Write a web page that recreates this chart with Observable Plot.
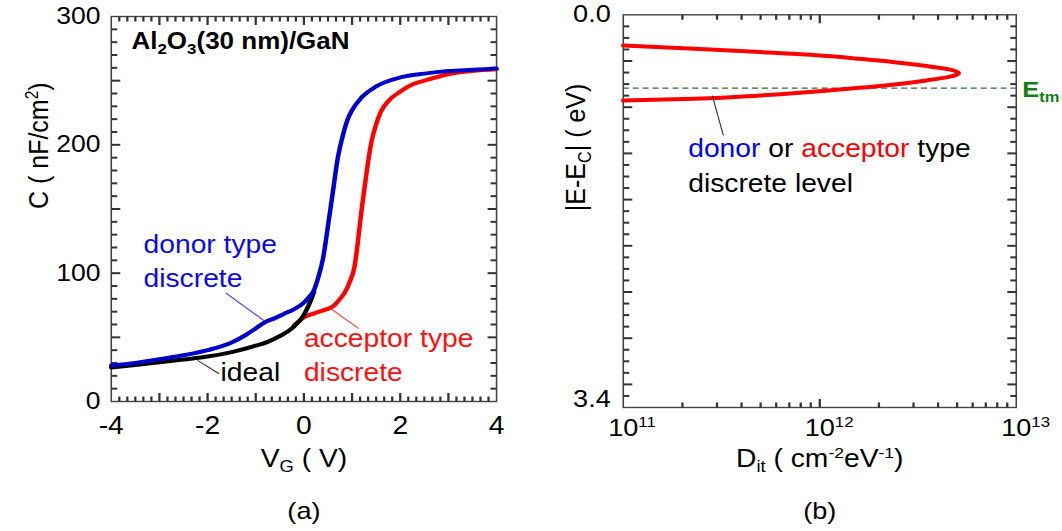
<!DOCTYPE html>
<html>
<head>
<meta charset="utf-8">
<script src="https://cdn.jsdelivr.net/npm/d3@7"></script>
<script src="https://cdn.jsdelivr.net/npm/@observablehq/plot@0.6"></script>
<style>
  body { margin: 0; background: #fff; }
  #wrap { position: relative; width: 1062px; height: 531px; overflow: hidden; background: #fff; }
  #wrap svg { position: absolute; top: 0; }
</style>
</head>
<body>
<div id="wrap"></div>
<script>
// ---------------- Panel (a): C-V curves ----------------
const vIdeal = [-4, -3.5, -3, -2.5, -2, -1.5, -1, -0.75, -0.5, -0.25, 0, 0.1, 0.21];
const cIdeal = [26.5, 28.5, 30.5, 32.7, 35, 38.5, 43.5, 46.5, 51, 57, 67.5, 75, 85.5];

const vDonor = [-4, -3.5, -3, -2.5, -2, -1.5, -1.2, -1, -0.8, -0.6, -0.4, -0.2, 0, 0.1, 0.2, 0.3, 0.4, 0.5, 0.6, 0.7, 0.8, 0.9, 1.0, 1.2, 1.5, 2.0, 2.5, 3.0, 3.5, 4.0];
const cDonor = [28, 30, 33, 36, 40, 46, 52, 57, 62, 65, 68.5, 72, 77, 81, 86, 97, 112, 137, 163, 189, 206, 219, 227, 237, 245.5, 252.5, 255.5, 257.5, 258.5, 259.5];

const vAcceptor = [-0.2, 0, 0.2, 0.4, 0.6, 0.75, 0.85, 0.95, 1.05, 1.1, 1.15, 1.2, 1.25, 1.3, 1.4, 1.5, 1.6, 1.75, 2.0, 2.25, 2.5, 3.0, 3.5, 4.0];
const cAcceptor = [59.5, 65.5, 68.5, 71, 74, 80, 85, 93, 105, 118, 134, 150, 164, 178, 202, 216, 226, 234, 241.5, 247, 250, 255, 257.5, 258.8];

const xTickValuesA = [-4, -2, 0, 2, 4];
const xTickLabelsA = ["-4", "-2", "0", "2", "4"];
const yTickValuesA = [0, 100, 200, 300];
const yTickLabelsA = ["0", "100", "200", "300"];

// ---------------- Panel (b): Dit distribution ----------------
const eLevel   = [0.266, 0.294, 0.323, 0.352, 0.381, 0.410, 0.444, 0.475, 0.505, 0.535, 0.568, 0.603, 0.632, 0.661, 0.698, 0.727, 0.741];
const ditLevel = [1.0e11, 2.3e11, 5.0e11, 1.0e12, 1.6e12, 2.4e12, 3.5e12, 4.6e12, 5.1e12, 4.6e12, 3.5e12, 2.4e12, 1.6e12, 1.0e12, 5.0e11, 2.3e11, 1.0e11];
const eTrapMid = [0.635];

const xTickValuesB = [1e11, 1e12, 1e13];
const xTickLabelsB = ["10^{11}", "10^{12}", "10^{13}"];
const yTickValuesB = [0, 3.4];
const yTickLabelsB = ["0.0", "3.4"];

// ---------------- layout ----------------
const STRETCH = 1.13;     // horizontal stretch of the reference figure
const H = 531;
const FONT = "'Liberation Sans', Arial, Helvetica, sans-serif";
const FRAME_COLOR = "#444";
const TICK_COLOR = "#333";
const BLUE = "#0000cc", RED = "#ff0000";

// inward ticks on all four sides: each tick is a 2-point line series
function frameTicks({xMinor, xMajor, yMinor, yMajor, xDom, yDom, xLog, iw, ih, xMinorLen, xMajorLen, yMinorLen, yMajorLen}) {
  const [yB, yT] = yDom;
  const [xL, xR] = xDom;
  const yFrom = (base, other, L) => base + (other - base) * (L / ih);
  const xFrom = (base, other, L) => {
    const f = (L / STRETCH) / iw;
    return xLog ? base * Math.pow(other / base, f) : base + (other - base) * f;
  };
  const pts = [];
  let id = 0;
  const seg = (x1, y1, x2, y2) => { id++; pts.push({id, x: x1, y: y1}, {id, x: x2, y: y2}); };
  const vt = (vals, L) => vals.forEach(v => { seg(v, yB, v, yFrom(yB, yT, L)); seg(v, yT, v, yFrom(yT, yB, L)); });
  const ht = (vals, L) => vals.forEach(v => { seg(xL, v, xFrom(xL, xR, L), v); seg(xR, v, xFrom(xR, xL, L), v); });
  vt(xMinor, xMinorLen); vt(xMajor, xMajorLen); ht(yMinor, yMinorLen); ht(yMajor, yMajorLen);
  return [Plot.line(pts, {x: "x", y: "y", z: "id", stroke: TICK_COLOR, strokeWidth: 2, strokeLinecap: "butt"})];
}

// rich text: _{sub}, ^{sup}, [color|text]
function richify(svg) {
  for (const t of svg.querySelectorAll("text")) {
    const s = t.textContent;
    if (!/[_^]\{|\[[^\]|]+\|/.test(s)) continue;
    const fs = parseFloat(getComputedStyle(t).fontSize) || 24;
    while (t.firstChild) t.removeChild(t.firstChild);
    const re = /_\{([^}]*)\}|\^\{([^}]*)\}|\[([^|\]]+)\|([^\]]*)\]|([^_^\[]+|[_^\[])/g;
    let m, offset = 0;
    while ((m = re.exec(s))) {
      const ts = document.createElementNS("http://www.w3.org/2000/svg", "tspan");
      let text, target = 0;
      if (m[1] != null) { text = m[1]; target = 0.22 * fs; ts.setAttribute("font-size", (0.65 * fs).toFixed(2)); }
      else if (m[2] != null) { text = m[2]; target = -0.34 * fs; ts.setAttribute("font-size", (0.62 * fs).toFixed(2)); }
      else if (m[3] != null) { text = m[4]; ts.setAttribute("fill", m[3]); }
      else text = m[5];
      const dy = target - offset; offset = target;
      if (dy) ts.setAttribute("dy", dy.toFixed(2));
      ts.textContent = text;
      t.appendChild(ts);
    }
  }
}

function place(svg, left, widthAct) {
  svg.setAttribute("width", widthAct);
  svg.setAttribute("height", H);
  svg.setAttribute("preserveAspectRatio", "none");
  svg.style.width = widthAct + "px";
  svg.style.height = H + "px";
  svg.style.maxWidth = "none";
  svg.style.left = left + "px";
  document.getElementById("wrap").appendChild(svg);
  richify(svg);
}

// ---------- Panel (a) ----------
{
  const widthAct = 530;
  const f = {left: 110.7, right: 496, top: 16, bottom: 401};
  const W = widthAct / STRETCH;
  const ml = f.left / STRETCH, mr = (widthAct - f.right) / STRETCH, mt = f.top, mb = H - f.bottom;
  const iw = W - ml - mr, ih = H - mt - mb;
  const xAll = d3.range(-24, 25).map(i => i / 6);
  const xMajor = d3.range(-3, 4);
  const xMinor = xAll.filter(v => Math.abs(v - Math.round(v)) > 1e-6);
  const yAll = d3.range(10, 300, 10);
  const yMajor = yAll.filter(v => v % 50 === 0);
  const yMinor = yAll.filter(v => v % 50 !== 0);

  const svg = Plot.plot({
    width: W, height: H,
    marginLeft: ml, marginRight: mr, marginTop: mt, marginBottom: mb,
    x: {domain: [-4, 4], axis: null},
    y: {domain: [0, 300], axis: null},
    style: {fontFamily: FONT, fontSize: "25px", background: "white", color: "black", overflow: "visible"},
    marks: [
      Plot.frame({stroke: FRAME_COLOR, fill: "none", strokeWidth: 1.4}),
      ...frameTicks({xMinor, xMajor, yMinor, yMajor, xDom: [-4, 4], yDom: [0, 300], xLog: false, iw, ih, xMinorLen: 5, xMajorLen: 8.5, yMinorLen: 6, yMajorLen: 9}),
      Plot.line(vAcceptor, {x: vAcceptor, y: cAcceptor, stroke: RED, strokeWidth: 4, curve: "monotone-x"}),
      Plot.line(vIdeal, {x: vIdeal, y: cIdeal, stroke: "#000", strokeWidth: 4, curve: "monotone-x"}),
      Plot.line(vDonor, {x: vDonor, y: cDonor, stroke: BLUE, strokeWidth: 4, curve: "monotone-x"}),
      // leader lines
      Plot.link([{x1: -1.62, y1: 84.4, x2: -0.83, y2: 63.1}], {x1: "x1", y1: "y1", x2: "x2", y2: "y2", stroke: "#2a2aff", strokeWidth: 1}),
      Plot.link([{x1: 0.55, y1: 72.5, x2: 1.14, y2: 56.7}], {x1: "x1", y1: "y1", x2: "x2", y2: "y2", stroke: "#ff3030", strokeWidth: 1}),
      Plot.link([{x1: -2.21, y1: 32, x2: -1.76, y2: 21.6}], {x1: "x1", y1: "y1", x2: "x2", y2: "y2", stroke: "#333", strokeWidth: 1}),
      // annotations
      Plot.text([{x: -3.58, y: 274.9, t: "Al_{2}O_{3}(30 nm)/GaN"}], {x: "x", y: "y", text: "t", textAnchor: "start", lineAnchor: "bottom", fontSize: 23, fontWeight: "bold", fill: "#000"}),
      Plot.text([{x: -3.33, y: 116.1, t: "donor type"}, {x: -3.33, y: 89.2, t: "discrete"}], {x: "x", y: "y", text: "t", textAnchor: "start", lineAnchor: "bottom", fontSize: 25, fill: "#0a0ae6"}),
      Plot.text([{x: 0.0, y: 42.1, t: "acceptor type"}, {x: 0.0, y: 15.6, t: "discrete"}], {x: "x", y: "y", text: "t", textAnchor: "start", lineAnchor: "bottom", fontSize: 25, fill: "#ff1010"}),
      Plot.text([{x: -1.73, y: 15.6, t: "ideal"}], {x: "x", y: "y", text: "t", textAnchor: "start", lineAnchor: "bottom", fontSize: 25, fill: "#000"}),
      // tick labels
      Plot.text(xTickValuesA, {x: d => d, text: (d, i) => xTickLabelsA[i], frameAnchor: "bottom", dy: 32, lineAnchor: "bottom", fontSize: 25, fill: "#000"}),
      Plot.text(yTickValuesA, {y: d => d, text: (d, i) => yTickLabelsA[i], frameAnchor: "left", dx: -10.7 / STRETCH, textAnchor: "end", fontSize: 23.5, fill: "#000"}),
      // axis labels
      Plot.text(["V_{G} ( V)"], {text: d => d, frameAnchor: "bottom", dy: 65, lineAnchor: "bottom", fontSize: 25, fill: "#000"}),
      Plot.text(["C ( nF/cm^{2})"], {text: d => d, frameAnchor: "left", rotate: -90, dx: -(110.7 - 38) / STRETCH, fontSize: 25, fill: "#000"}),
      Plot.text(["(a)"], {text: d => d, frameAnchor: "bottom", dy: 117, lineAnchor: "bottom", fontSize: 24, fill: "#000"})
    ]
  });
  place(svg, 0, widthAct);
}

// ---------- Panel (b) ----------
{
  const left = 530, widthAct = 532;
  const f = {left: 622.7 - left, right: 1015.7 - left, top: 14.3, bottom: 407};
  const W = widthAct / STRETCH;
  const ml = f.left / STRETCH, mr = (widthAct - f.right) / STRETCH, mt = f.top, mb = H - f.bottom;
  const iw = W - ml - mr, ih = H - mt - mb;
  const xMinor = [11, 12].flatMap(p => d3.range(2, 10).map(k => k * Math.pow(10, p)));
  const xMajor = [1e12];
  const yAll = d3.range(1, 34).map(i => i / 10);
  const yMajor = yAll.filter(v => Math.round(v * 10) % 4 === 0);
  const yMinor = yAll.filter(v => Math.round(v * 10) % 4 !== 0);
  const fsTick = 24;

  const svg = Plot.plot({
    width: W, height: H,
    marginLeft: ml, marginRight: mr, marginTop: mt, marginBottom: mb,
    x: {type: "log", domain: [1e11, 1e13], axis: null},
    y: {domain: [3.4, 0], axis: null},
    style: {fontFamily: FONT, fontSize: "25px", background: "white", color: "black", overflow: "visible"},
    marks: [
      Plot.frame({stroke: FRAME_COLOR, fill: "none", strokeWidth: 1.4}),
      ...frameTicks({xMinor, xMajor, yMinor, yMajor, xDom: [1e11, 1e13], yDom: [3.4, 0], xLog: true, iw, ih, xMinorLen: 5, xMajorLen: 8.5, yMinorLen: 6, yMajorLen: 9}),
      Plot.ruleY(eTrapMid, {y: d => d, stroke: "#2f6f2f", strokeWidth: 1.3, strokeDasharray: "5.3,3.5"}),
      Plot.line(eLevel, {x: ditLevel, y: eLevel, stroke: RED, strokeWidth: 4, curve: "monotone-y"}),
      Plot.link([{x1: 2.84e11, y1: 0.70, x2: 3.23e11, y2: 1.044}], {x1: "x1", y1: "y1", x2: "x2", y2: "y2", stroke: "#333", strokeWidth: 1}),
      Plot.text([{x: 2.14e11, y: 1.234, t: "[#0000ff|donor] or [#ff0000|acceptor] type"}, {x: 2.14e11, y: 1.537, t: "discrete level"}],
        {x: "x", y: "y", text: "t", textAnchor: "start", lineAnchor: "bottom", fontSize: 25, fill: "#000"}),
      Plot.text(eTrapMid, {y: d => d, text: () => "E_{tm}", frameAnchor: "right", dx: 6 / STRETCH, dy: 9, textAnchor: "start", lineAnchor: "bottom", fontSize: 22.5, fontWeight: "bold", fill: "#128012"}),
      // tick labels
      Plot.text(xTickValuesB, {x: d => d, text: (d, i) => xTickLabelsB[i], frameAnchor: "bottom", textAnchor: "start", dx: -0.556 * fsTick, dy: 28, lineAnchor: "bottom", fontSize: fsTick, fill: "#000"}),
      Plot.text([yTickValuesB[0]], {y: d => d, text: () => yTickLabelsB[0], frameAnchor: "left", dx: -12.5 / STRETCH, textAnchor: "end", fontSize: fsTick, fill: "#000"}),
      Plot.text([yTickValuesB[1]], {y: d => d, text: () => yTickLabelsB[1], frameAnchor: "left", dx: -12.5 / STRETCH, dy: -8.5, textAnchor: "end", fontSize: fsTick, fill: "#000"}),
      // axis labels
      Plot.text(["D_{it} ( cm^{-2}eV^{-1})"], {text: d => d, frameAnchor: "bottom", dy: 59, lineAnchor: "bottom", fontSize: 25, fill: "#000"}),
      Plot.text(["|E-E_{C}| ( eV)"], {text: d => d, frameAnchor: "left", rotate: -90, dx: -47.7 / STRETCH, fontSize: 25, fill: "#000"}),
      Plot.text(["(b)"], {text: d => d, frameAnchor: "bottom", dy: 111, lineAnchor: "bottom", fontSize: 24, fill: "#000"})
    ]
  });
  place(svg, left, widthAct);
}
</script>
</body>
</html>
